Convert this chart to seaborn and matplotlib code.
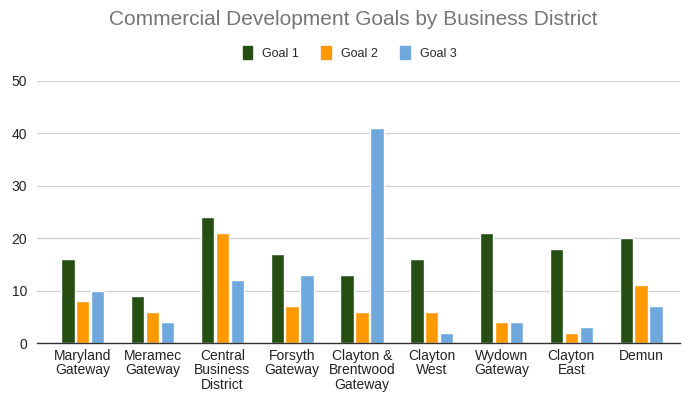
import matplotlib
matplotlib.use('Agg')
import matplotlib.pyplot as plt
import seaborn as sns
import pandas as pd

districts = ['Maryland\nGateway', 'Meramec\nGateway', 'Central\nBusiness\nDistrict',
             'Forsyth\nGateway', 'Clayton &\nBrentwood\nGateway', 'Clayton\nWest',
             'Wydown\nGateway', 'Clayton\nEast', 'Demun']
goal1 = [16, 9, 24, 17, 13, 16, 21, 18, 20]
goal2 = [8, 6, 21, 7, 6, 6, 4, 2, 11]
goal3 = [10, 4, 12, 13, 41, 2, 4, 3, 7]
series = ['Goal 1', 'Goal 2', 'Goal 3']
colors = ['#274e13', '#ff9900', '#6fa8dc']

df = pd.DataFrame({'district': districts, 'Goal 1': goal1, 'Goal 2': goal2, 'Goal 3': goal3})
df = df.melt(id_vars='district', var_name='goal', value_name='value')

sns.set_style('white')
plt.rcParams['font.family'] = ['Liberation Sans', 'DejaVu Sans']

fig = plt.figure(figsize=(6.92, 3.93), dpi=100)
ax = fig.add_axes([0.053, 0.127, 0.93, 0.667])

sns.barplot(data=df, x='district', y='value', hue='goal', hue_order=series,
            palette=colors, saturation=1, width=0.64, gap=0.1, ax=ax, legend=False)

ax.set_ylim(0, 50)
ax.set_yticks([0, 10, 20, 30, 40, 50])
ax.set_xlim(-0.66, 8.56)
ax.grid(axis='y', color='#d0d0d0', linewidth=0.9)
ax.set_axisbelow(True)
for s in ['top', 'right', 'left']:
    ax.spines[s].set_visible(False)
ax.spines['bottom'].set_color('#333333')
ax.spines['bottom'].set_linewidth(1.0)
ax.tick_params(axis='both', length=0, labelsize=10, colors='#222222')
ax.tick_params(axis='y', pad=7)
ax.tick_params(axis='x', pad=4)
for lbl in ax.get_xticklabels():
    lbl.set_linespacing(1.05)
ax.set_xlabel('')
ax.set_ylabel('')

handles = [plt.Rectangle((0, 0), 1, 1, color=c) for c in colors]
fig.legend(handles, series, loc='center', bbox_to_anchor=(0.505, 0.866), ncol=3,
           frameon=False, fontsize=9, handlelength=0.75, handleheight=1.3,
           handletextpad=0.8, columnspacing=1.8)

fig.suptitle('Commercial Development Goals by Business District', x=0.51, y=0.975,
             fontsize=15, color='#757575')

fig.savefig('out.png', dpi=100)
